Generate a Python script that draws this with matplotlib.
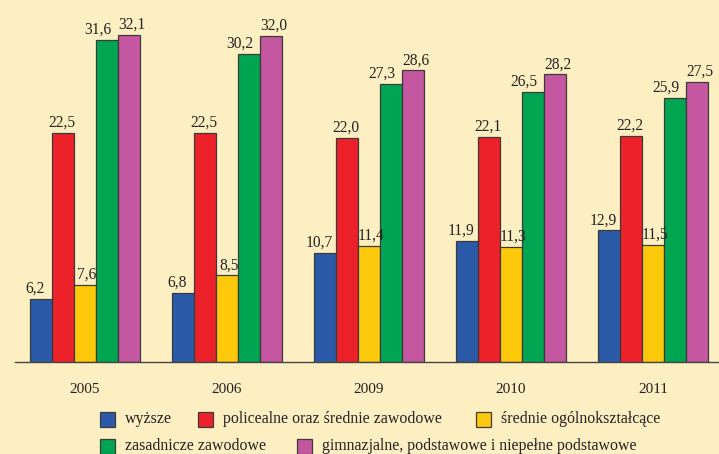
import numpy as np
import matplotlib
matplotlib.use("Agg")
import matplotlib.pyplot as plt
from matplotlib.patches import Rectangle

# data
years = ["2005", "2006", "2009", "2010", "2011"]
series = [
    "wyższe",
    "policealne oraz średnie zawodowe",
    "średnie ogólnokształcące",
    "zasadnicze zawodowe",
    "gimnazjalne, podstawowe i niepełne podstawowe",
]
wyzsze = [6.2, 6.8, 10.7, 11.9, 12.9]
policealne = [22.5, 22.5, 22.0, 22.1, 22.2]
srednie = [7.6, 8.5, 11.4, 11.3, 11.5]
zasadnicze = [31.6, 30.2, 27.3, 26.5, 25.9]
gimnazjalne = [32.1, 32.0, 28.6, 28.2, 27.5]

colors = ["#2B5BA8", "#EC2129", "#FFC90B", "#00A551", "#C4579F"]
bg = "#FEEFC3"
# horizontal nudge of the value labels (pixels) so they don't collide
nudge = [-6, -1, 2, -9, 3]

plt.rcParams["font.family"] = ["Liberation Serif", "DejaVu Serif"]

W, H = 719, 454
fig = plt.figure(figsize=(W / 100, H / 100), dpi=100, facecolor=bg)
ax = fig.add_axes([15 / W, (H - 362) / H, 704 / W, 362 / H])
ax.set_facecolor(bg)

x = np.arange(len(years))
bw = 0.155
values = [wyzsze, policealne, srednie, zasadnicze, gimnazjalne]
for i, (vals, col, dx) in enumerate(zip(values, colors, nudge)):
    pos = x + (i - 2) * bw
    ax.bar(pos, vals, width=bw, color=col, edgecolor="#3a3a3a", linewidth=0.9, zorder=2)
    for px, v in zip(pos, vals):
        ax.annotate(f"{v:.1f}".replace(".", ","), (px, v), xytext=(dx * 0.72, 1.5),
                    textcoords="offset points", ha="center", va="bottom",
                    fontsize=11.2, color="#222222")

ax.set_xlim(-0.493, 4.465)
ax.set_ylim(0, 35.5)
for s in ["top", "right", "left"]:
    ax.spines[s].set_visible(False)
ax.spines["bottom"].set_color("#444444")
ax.spines["bottom"].set_linewidth(1.0)
ax.set_yticks([])
ax.set_xticks(x)
ax.set_xticklabels(years, fontsize=11, color="#222222")
ax.tick_params(axis="x", length=0, pad=15)

# legend, placed by hand in figure pixels
legend_pos = [(100, 419), (198, 419), (476, 419), (100, 446), (297, 446)]
for (lx, ly), col, name in zip(legend_pos, colors, series):
    fig.add_artist(Rectangle((lx / W, (H - ly - 7.5) / H), 15 / W, 15 / H,
                             transform=fig.transFigure, facecolor=col,
                             edgecolor="#3a3a3a", linewidth=0.9))
    fig.text((lx + 25) / W, (H - ly) / H, name, fontsize=11.4, va="center",
             ha="left", color="#222222")

fig.savefig("out.png", dpi=100, facecolor=bg)
